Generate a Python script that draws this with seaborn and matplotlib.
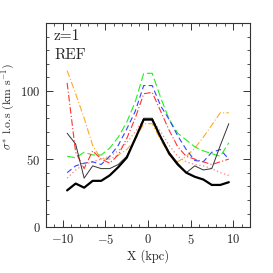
import numpy as np
import pandas as pd
import matplotlib
matplotlib.use("Agg")
import matplotlib.pyplot as plt
import seaborn as sns

# bin centres (kpc)
x_kpc = [-9.5, -8.5, -7.5, -6.5, -5.5, -4.5, -3.5, -2.5, -1.5, -0.5,
         0.5, 1.5, 2.5, 3.5, 4.5, 5.5, 6.5, 7.5, 8.5, 9.5]

# sigma* l.o.s. profiles (km/s)
sig_black = [27, 32, 29, 34, 34, 38, 44, 51, 65, 79,
             79, 66, 54, 46, 40, 37, 35, 31, 31, 33]
sig_gray = [69, 61, 36, 45, 43, 43, 46, 52, 65, 80,
            80, 66, 55, 47, 40, 45, 42, 43, 60, 76]
sig_green = [52, 51, 55, 53, 53, 58, 66, 77, 92, 113,
             113, 95, 79, 69, 64, 59, 56, 54, 52, 62]
sig_blue = [40, 45, 47, 48, 46, 52, 60, 72, 85, 104,
            104, 89, 79, 67, 57, 49, 48, 55, 57, 50]
sig_red = [106, 55, 43, 56, 50, 47, 53, 65, 80, 98,
           99, 85, 71, 59, 52, 50, 48, 46, 48, 50]
sig_orange = [115, 98, 80, 60, 50, 50, 53, 57, 64, 76,
              76, 64, 53, 48, 52, 58, 66, 75, 84, 84]
sig_pink = [36, 42, 46, 48, 50, 52, 56, 62, 70, 79,
            79, 70, 60, 52, 48, 46, 45, 43, 40, 38]

sns.set_style("ticks")
plt.rcParams.update({
    "font.family": "serif",
    "font.serif": ["cmr10", "DejaVu Serif"],
    "mathtext.fontset": "cm",
    "axes.formatter.use_mathtext": True,
    "axes.linewidth": 0.8,
    "axes.edgecolor": "#333333",
})

fig = plt.figure(figsize=(2.73, 2.73), dpi=100)
ax = fig.add_axes([0.168, 0.168, 0.748, 0.748])

series = [
    (sig_pink, "#ff7f7f", (1, 2), 0.9),
    (sig_orange, "#ffaa22", (6, 2, 1, 2), 0.8),
    (sig_green, "#22ee22", (7, 3), 0.8),
    (sig_blue, "#3344ff", (5, 3), 0.8),
    (sig_red, "#ff3333", (6, 2, 1, 2), 0.8),
    (sig_gray, "#333333", None, 0.7),
    (sig_black, "black", None, 1.6),
]
for vals, col, dash, lw in series:
    df = pd.DataFrame({"x": x_kpc, "y": vals})
    sns.lineplot(data=df, x="x", y="y", ax=ax, color=col, linewidth=lw)
    if dash is not None:
        ax.lines[-1].set_dashes(dash)

ax.set_xlim(-12, 12)
ax.set_ylim(0, 150)
ax.set_xticks([-10, -5, 0, 5, 10])
ax.set_xticks(np.arange(-12, 13, 1), minor=True)
ax.set_yticks([0, 50, 100])
ax.set_yticks(np.arange(0, 151, 10), minor=True)
ax.tick_params(which="both", direction="in", top=True, right=True,
               labelsize=9, colors="#333333", labelcolor="#222222")
ax.tick_params(which="major", length=5, width=0.7, pad=4)
ax.tick_params(which="minor", length=2.5, width=0.6)
ax.set_xlabel("X (kpc)", fontsize=9, labelpad=2)
ax.set_ylabel(r"$\sigma^{*}$ l.o.s (km s$^{-1}$)", fontsize=8.5)
ax.yaxis.set_label_coords(-0.14, 0.59)

ax.text(0.04, 0.97, "z=1", transform=ax.transAxes, fontsize=11,
        va="top", ha="left")
ax.text(0.04, 0.875, "REF", transform=ax.transAxes, fontsize=11,
        va="top", ha="left")

fig.savefig("out.png", dpi=100)
